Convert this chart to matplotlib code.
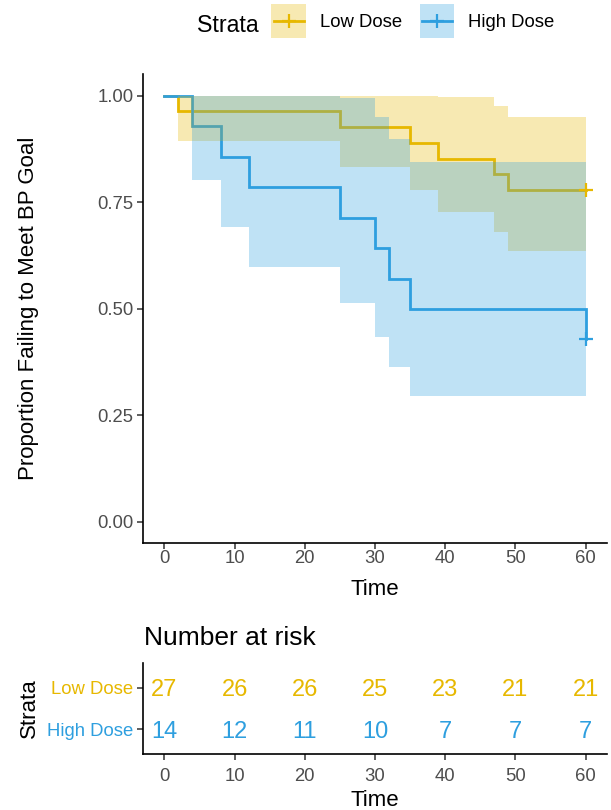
import matplotlib
matplotlib.use("Agg")
import matplotlib.pyplot as plt
import matplotlib.transforms as mtransforms
from matplotlib.patches import Rectangle
from matplotlib.lines import Line2D
from matplotlib.legend_handler import HandlerBase

plt.rcParams['font.family'] = ['Liberation Sans', 'DejaVu Sans']

# ---------------- data ----------------
strata = ["Low Dose", "High Dose"]
colors = {"Low Dose": "#E7B800", "High Dose": "#2E9FDF"}

low_time = [0, 2, 25, 35, 39, 47, 49, 60]
low_surv = [1.000, 0.963, 0.926, 0.889, 0.852, 0.815, 0.778, 0.778]
low_lower = [1.000, 0.894, 0.832, 0.778, 0.728, 0.681, 0.636, 0.636]
low_upper = [1.000, 1.000, 1.000, 1.000, 0.997, 0.975, 0.951, 0.951]
low_censor_time = [60]
low_censor_surv = [0.778]

high_time = [0, 4, 8, 12, 25, 30, 32, 35, 60]
high_surv = [1.000, 0.929, 0.857, 0.786, 0.714, 0.643, 0.571, 0.500, 0.429]
high_lower = [1.000, 0.803, 0.692, 0.598, 0.513, 0.435, 0.363, 0.296, 0.234]
high_upper = [1.000, 1.000, 1.000, 1.000, 0.995, 0.950, 0.899, 0.844, 0.785]
high_censor_time = [60]
high_censor_surv = [0.429]

risk_times = [0, 10, 20, 30, 40, 50, 60]
risk_low = [27, 26, 26, 25, 23, 21, 21]
risk_high = [14, 12, 11, 10, 7, 7, 7]

x_ticks = [0, 10, 20, 30, 40, 50, 60]
y_ticks = [0.00, 0.25, 0.50, 0.75, 1.00]
y_ticklabels = ["0.00", "0.25", "0.50", "0.75", "1.00"]

# ---------------- figure ----------------
W, H = 611, 810
fig = plt.figure(figsize=(W / 100, H / 100), dpi=100)

def px_axes(left, top, right, bottom):
    return fig.add_axes([left / W, 1 - bottom / H, (right - left) / W, (bottom - top) / H])

ax = px_axes(143.3, 74.3, 606.7, 543.3)
axt = px_axes(143.3, 662.7, 606.7, 754.3)

TICK_FS = 13.3
TITLE_FS = 16
TICK_COLOR = "#4D4D4D"

series = [
    ("Low Dose", low_time, low_surv, low_lower, low_upper, low_censor_time, low_censor_surv),
    ("High Dose", high_time, high_surv, high_lower, high_upper, high_censor_time, high_censor_surv),
]

for name, t, s, lo, up, ct, cs in series:
    ax.step(t, s, where="post", color=colors[name], lw=2.0, zorder=2, solid_joinstyle="miter")
for name, t, s, lo, up, ct, cs in series:
    ax.fill_between(t, lo, up, step="post", color=colors[name], alpha=0.3, lw=0, zorder=3)
for name, t, s, lo, up, ct, cs in series:
    ax.plot(ct, cs, linestyle="none", marker="+", ms=10, mew=1.6, color=colors[name], zorder=4)

ax.set_xlim(-3, 63)
ax.set_ylim(-0.05, 1.05)
ax.set_xticks(x_ticks)
ax.set_yticks(y_ticks)
ax.set_yticklabels(y_ticklabels)
for sp in ["top", "right"]:
    ax.spines[sp].set_visible(False)
for sp in ["left", "bottom"]:
    ax.spines[sp].set_linewidth(1.2)
ax.tick_params(axis="both", length=4.1, width=1.1, color="#333333",
               labelcolor=TICK_COLOR, labelsize=TICK_FS)
ax.tick_params(axis="x", pad=0.5)
ax.tick_params(axis="y", pad=2.9)
ax.set_xlabel("Time", fontsize=TITLE_FS, va="baseline")
ax.xaxis.set_label_coords(0.5, (543.3 - 595) / 469.0)
ax.set_ylabel("Proportion Failing to Meet BP Goal", fontsize=TITLE_FS, va="center")
ax.yaxis.set_label_coords((29 - 143.3) / 463.4, 0.5)

# ---------------- legend ----------------
class KeyHandler(HandlerBase):
    def create_artists(self, legend, orig_handle, xdescent, ydescent, width, height, fontsize, trans):
        c = orig_handle.get_color()
        x0, y0 = -xdescent, -ydescent
        rect = Rectangle((x0, y0), width, height, facecolor=c, alpha=0.3,
                         edgecolor="none", transform=trans)
        yc = y0 + height / 2
        line = Line2D([x0 + 0.08 * width, x0 + 0.92 * width], [yc, yc], color=c, lw=2.0, transform=trans)
        mark = Line2D([x0 + width / 2], [yc], marker="+", ms=10, mew=1.6, color=c,
                      linestyle="none", transform=trans)
        return [rect, line, mark]

handles = [Line2D([], [], color=colors[n]) for n in strata]
leg = fig.legend(handles, strata, loc="center", bbox_to_anchor=(412.7 / W, 1 - 21 / H),
                 ncol=2, frameon=False, fontsize=TICK_FS, handlelength=1.89, handleheight=2.45,
                 handletextpad=0.72, columnspacing=0.96, borderpad=0, borderaxespad=0,
                 handler_map={Line2D: KeyHandler()})
fig.text(197 / W, 1 - 31.5 / H, "Strata", fontsize=16.7, ha="left", va="baseline")

# ---------------- risk table ----------------
fig.text(143.5 / W, 1 - 645 / H, "Number at risk", fontsize=19, ha="left", va="baseline")

row_pos = {"High Dose": 1, "Low Dose": 2}
risk = {"Low Dose": risk_low, "High Dose": risk_high}
txt_tr = mtransforms.offset_copy(axt.transData, fig=fig, x=0, y=-2.5, units="dots")
for name in strata:
    for t, n in zip(risk_times, risk[name]):
        axt.text(t, row_pos[name], str(n), ha="center", va="center", fontsize=17,
                 color=colors[name], transform=txt_tr)

axt.set_xlim(-3, 63)
axt.set_ylim(0.4, 2.6)
axt.set_xticks(x_ticks)
axt.set_yticks([row_pos[n] for n in strata])
axt.set_yticklabels(strata)
for lbl, n in zip(axt.get_yticklabels(), strata):
    lbl.set_color(colors[n])
for sp in ["top", "right"]:
    axt.spines[sp].set_visible(False)
for sp in ["left", "bottom"]:
    axt.spines[sp].set_linewidth(1.2)
axt.tick_params(axis="both", length=4.1, width=1.1, color="#333333", labelsize=TICK_FS)
axt.tick_params(axis="x", pad=5.5, labelcolor=TICK_COLOR)
axt.tick_params(axis="y", pad=3.0)
axt.set_xlabel("Time", fontsize=TITLE_FS, va="baseline")
axt.xaxis.set_label_coords(0.5, (754.3 - 806) / 91.6)
axt.set_ylabel("Strata", fontsize=TITLE_FS, va="center")
axt.yaxis.set_label_coords((29 - 143.3) / 463.4, 0.5)

fig.savefig("out.png", dpi=100)
